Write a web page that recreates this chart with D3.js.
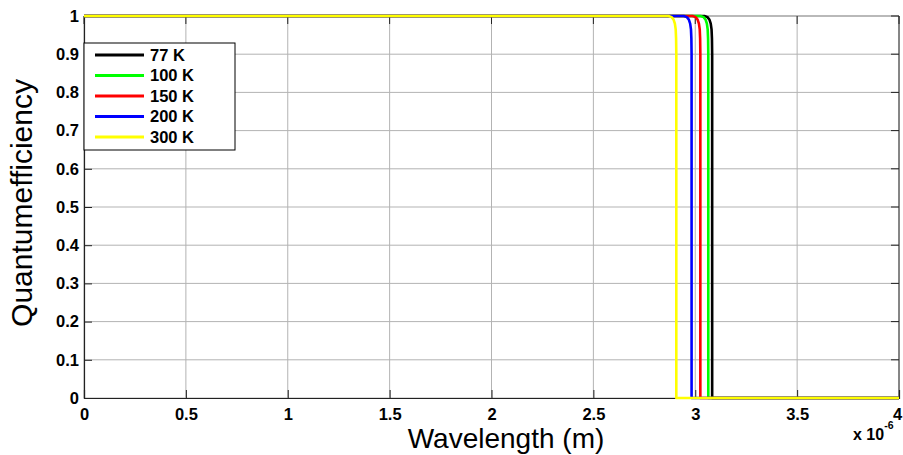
<!DOCTYPE html>
<html>
<head>
<meta charset="utf-8">
<script src="https://cdn.jsdelivr.net/npm/d3@7"></script>
<style>
  html, body { margin: 0; padding: 0; background: #fff; }
  svg { display: block; font-family: "Liberation Sans", Arial, sans-serif; }
</style>
</head>
<body>
<svg id="chart" width="903" height="455"></svg>
<script>
// ---- Data (wavelength in units of 1e-6 m) ----
const seriesNames = ["77 K", "100 K", "150 K", "200 K", "300 K"];
const seriesColors = ["#000000", "#00ff00", "#ff0000", "#0000ff", "#ffff00"];

const qePoints = [1, 1, 0.997, 0.99, 0.98, 0.965, 0.94, 0.90, 0, 0];

const wl77  = [0, 3.045, 3.060, 3.070, 3.076, 3.080, 3.082, 3.083, 3.083, 4];
const wl100 = [0, 3.026, 3.041, 3.051, 3.057, 3.061, 3.063, 3.064, 3.064, 4];
const wl150 = [0, 2.987, 3.002, 3.012, 3.018, 3.022, 3.024, 3.025, 3.025, 4];
const wl200 = [0, 2.944, 2.959, 2.969, 2.975, 2.979, 2.981, 2.982, 2.982, 4];
const wl300 = [0, 2.869, 2.884, 2.894, 2.900, 2.904, 2.906, 2.907, 2.907, 4];

const xTicks = [0, 0.5, 1, 1.5, 2, 2.5, 3, 3.5, 4];
const xTickLabels = ["0", "0.5", "1", "1.5", "2", "2.5", "3", "3.5", "4"];
const yTicks = [0, 0.1, 0.2, 0.3, 0.4, 0.5, 0.6, 0.7, 0.8, 0.9, 1];
const yTickLabels = ["0", "0.1", "0.2", "0.3", "0.4", "0.5", "0.6", "0.7", "0.8", "0.9", "1"];

const xLabel = "Wavelength (m)";
const yLabel = "Quantumefficiency";

// ---- Layout ----
const svg = d3.select("#chart");
const margin = { left: 84, top: 16, right: 4, bottom: 57 };
const W = 903, H = 455;
const x0 = margin.left, x1 = W - margin.right;
const y0 = H - margin.bottom, y1 = margin.top;

const x = d3.scaleLinear().domain([0, 4]).range([x0, x1]);
const y = d3.scaleLinear().domain([0, 1]).range([y0, y1]);

// Grid
const grid = svg.append("g").attr("stroke", "#b3b3b3").attr("stroke-width", 1);
xTicks.forEach(t => {
  grid.append("line").attr("x1", x(t)).attr("x2", x(t)).attr("y1", y0).attr("y2", y1);
});
yTicks.forEach(t => {
  grid.append("line").attr("x1", x0).attr("x2", x1).attr("y1", y(t)).attr("y2", y(t));
});

// Axis box
svg.append("line").attr("x1", x0).attr("x2", x1).attr("y1", y1).attr("y2", y1).attr("stroke", "#999").attr("stroke-width", 1);
svg.append("line").attr("x1", x1).attr("x2", x1).attr("y1", y0).attr("y2", y1).attr("stroke", "#333").attr("stroke-width", 1);

// Axes via d3
const xAxis = d3.axisBottom(x).tickValues(xTicks).tickFormat((d, i) => xTickLabels[i]).tickSize(-8).tickPadding(10);
const gx = svg.append("g").attr("transform", `translate(0,${y0})`).call(xAxis);
const yAxis = d3.axisLeft(y).tickValues(yTicks).tickFormat((d, i) => yTickLabels[i]).tickSize(-8).tickPadding(5);
const gy = svg.append("g").attr("transform", `translate(${x0},0)`).call(yAxis);
[gx, gy].forEach(g => {
  g.select(".domain").attr("stroke", "#222").attr("stroke-width", 1.2);
  g.selectAll(".tick line").attr("stroke", "#222");
  g.selectAll(".tick text").attr("fill", "#000").attr("font-size", 16.5).attr("font-weight", "bold")
    .attr("font-family", "Liberation Sans, Arial, sans-serif");
});
gx.selectAll(".tick text").attr("dy", "0.71em");
gx.selectAll(".tick").filter((d, i) => i === xTicks.length - 1).select("text").attr("dx", -2);
// top / right ticks
xTicks.forEach(t => {
  svg.append("line").attr("x1", x(t)).attr("x2", x(t)).attr("y1", y1).attr("y2", y1 + 8).attr("stroke", "#222");
});
yTicks.forEach(t => {
  svg.append("line").attr("x1", x1).attr("x2", x1 - 8).attr("y1", y(t)).attr("y2", y(t)).attr("stroke", "#222");
});

// Lines
const allSeries = [wl77, wl100, wl150, wl200, wl300];
const line = d3.line().x(d => x(d[0])).y(d => y(d[1])).curve(d3.curveLinear);
allSeries.forEach((wl, i) => {
  const pts = wl.map((w, j) => [w, qePoints[j]]);
  svg.append("path").datum(pts).attr("d", line)
    .attr("fill", "none").attr("stroke", seriesColors[i]).attr("stroke-width", 2.6)
    .attr("stroke-linejoin", "round");
});

// Legend
const lg = svg.append("g");
lg.append("rect").attr("x", 84).attr("y", 43).attr("width", 151).attr("height", 107)
  .attr("fill", "#fff").attr("stroke", "#000").attr("stroke-width", 1);
seriesNames.forEach((n, i) => {
  const cy = 55 + i * 20.5;
  lg.append("line").attr("x1", 95).attr("x2", 144).attr("y1", cy).attr("y2", cy)
    .attr("stroke", seriesColors[i]).attr("stroke-width", 3);
  lg.append("text").attr("x", 150).attr("y", cy).attr("dy", "0.36em")
    .attr("font-size", 16.5).attr("font-weight", "bold").text(n);
});

// Axis labels
svg.append("text").attr("x", 506).attr("y", 448).attr("text-anchor", "middle")
  .attr("font-size", 28).text(xLabel);
svg.append("text").attr("transform", "translate(32,203) rotate(-90)").attr("text-anchor", "middle")
  .attr("font-size", 30).text(yLabel);

// Exponent
const ex = svg.append("text").attr("x", 853).attr("y", 440).attr("font-size", 16).attr("font-weight", "bold");
ex.append("tspan").text("x 10");
ex.append("tspan").attr("font-size", 10.5).attr("dy", -11).text("-6");
</script>
</body>
</html>
